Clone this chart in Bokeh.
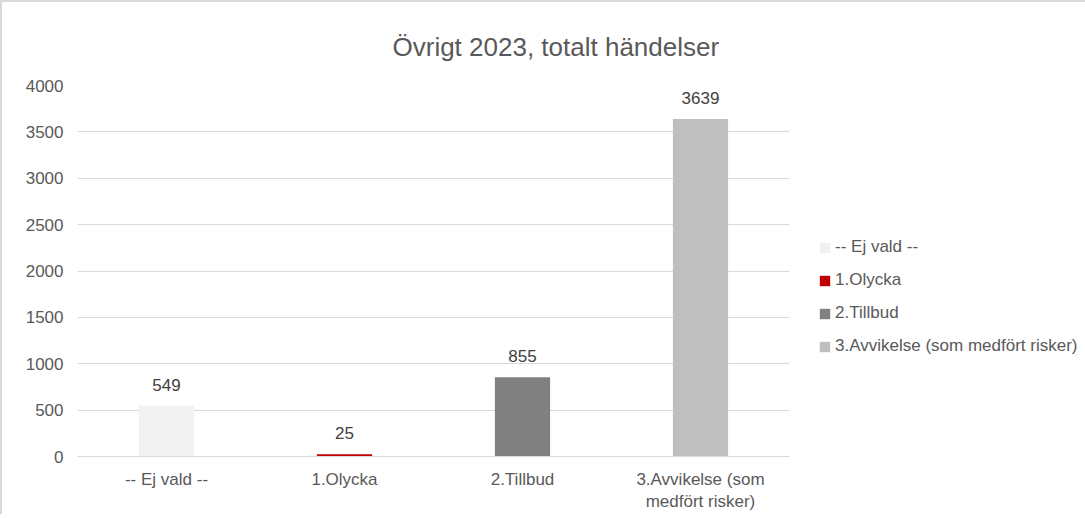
from bokeh.plotting import figure
from bokeh.models import ColumnDataSource, Range1d, FactorRange, Legend, LegendItem, SingleIntervalTicker
from bokeh.core.properties import value
from bokeh.embed import file_html
from bokeh.resources import INLINE

# ---- data ----
categories = ["-- Ej vald --", "1.Olycka", "2.Tillbud", "3.Avvikelse (som\nmedfört risker)"]
legend_names = ["-- Ej vald --", "1.Olycka", "2.Tillbud", "3.Avvikelse (som medfört risker)"]
counts = [549, 25, 855, 3639]
colors = ["#f2f2f2", "#c00000", "#808080", "#bfbfbf"]
title_text = "Övrigt 2023, totalt händelser"

FONT = "Liberation Sans"
TXT = "#595959"

src = ColumnDataSource(dict(cat=categories, name=legend_names, val=counts,
                            color=colors, label=[str(v) for v in counts]))

p = figure(x_range=FactorRange(factors=categories), y_range=Range1d(0, 4000),
           frame_width=712, frame_height=371,
           min_border_left=75, min_border_top=83, min_border_right=277, min_border_bottom=50,
           output_backend="svg", toolbar_location=None, title=title_text)

p.title.text_font = FONT
p.title.text_font_size = "26px"
p.title.text_font_style = "normal"
p.title.text_color = TXT
p.title.align = "left"
p.title.offset = 315
p.title.standoff = 47

p.outline_line_color = None
p.background_fill_color = "white"
p.border_fill_color = "white"

r = p.vbar(x="cat", top="val", width=0.31, color="color", source=src, line_color=None)

p.text(x="cat", y="val", text="label", source=src, y_offset=-15,
       text_align="center", text_baseline="bottom",
       text_font=value(FONT), text_font_size="17px", text_color="#404040")

p.xgrid.grid_line_color = None
p.ygrid.grid_line_color = "#d9d9d9"
p.ygrid.grid_line_width = 1

p.yaxis.ticker = SingleIntervalTicker(interval=500)
p.yaxis.axis_line_color = None
p.yaxis.major_tick_line_color = None
p.yaxis.minor_tick_line_color = None
p.yaxis.major_label_standoff = 8
p.yaxis.major_label_text_font = FONT
p.yaxis.major_label_text_font_size = "17px"
p.yaxis.major_label_text_color = TXT

p.xaxis.axis_line_color = "#d9d9d9"
p.xaxis.major_tick_line_color = None
p.xaxis.minor_tick_line_color = None
p.xaxis.major_label_standoff = 7
p.xaxis.major_label_text_font = FONT
p.xaxis.major_label_text_font_size = "17px"
p.xaxis.major_label_text_color = TXT

items = [LegendItem(label=legend_names[i], renderers=[r], index=i) for i in range(len(legend_names))]
legend = Legend(items=items, location=(29, 100), orientation="vertical")
legend.border_line_color = None
legend.background_fill_alpha = 0
legend.glyph_width = 13
legend.glyph_height = 13
legend.label_standoff = 4
legend.spacing = 13
legend.label_height = 20
legend.margin = 0
legend.padding = 6
legend.label_text_font = FONT
legend.label_text_font_size = "17px"
legend.label_text_color = TXT
p.add_layout(legend, "right")

p.styles = {"border-top": "2px solid #d9d9d9", "border-left": "2px solid #d9d9d9"}

open("out.html", "w").write(file_html(p, INLINE))
